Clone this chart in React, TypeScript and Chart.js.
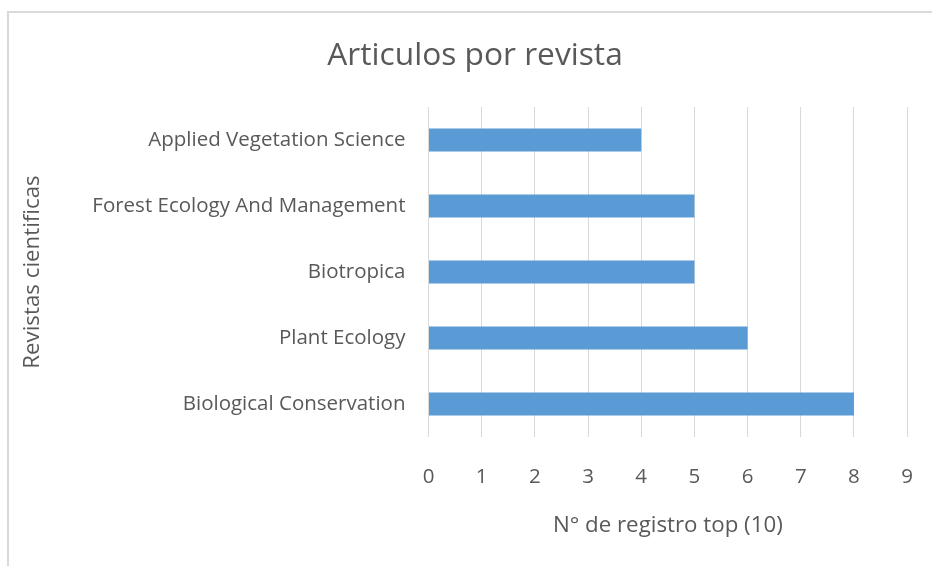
import React, { useEffect, useRef } from "react";
import { Chart, registerables } from "chart.js";

Chart.register(...registerables);

const categories = [
  "Applied Vegetation Science",
  "Forest Ecology And Management",
  "Biotropica",
  "Plant Ecology",
  "Biological Conservation",
];
const values = [4, 5, 5, 6, 8];
const xMin = 0;
const xMax = 9;
const titleText = "Articulos por revista";
const xTitle = "N° de registro top (10)";
const yTitle = "Revistas cientificas";

const FONT = "'Open Sans', Lato, sans-serif";
const TEXT = "#595959";
const GRID = "#d9d9d9";
const BAR = "#5B9BD5";

export default function App() {
  const ref = useRef<HTMLCanvasElement | null>(null);

  useEffect(() => {
    document.body.style.margin = "0";
    if (!ref.current) return;
    const chart = new Chart(ref.current, {
      type: "bar",
      data: {
        labels: categories,
        datasets: [
          {
            data: values,
            backgroundColor: BAR,
            borderWidth: 0,
            categoryPercentage: 1,
            barPercentage: 0.35,
          },
        ],
      },
      options: {
        indexAxis: "y",
        animation: false,
        responsive: false,
        layout: { padding: { left: 33, right: 33, top: 0, bottom: 0 } },
        plugins: {
          legend: { display: false },
          tooltip: { enabled: false },
          title: {
            display: true,
            text: titleText,
            color: TEXT,
            font: { family: FONT, size: 31.7, weight: "normal" },
            padding: { top: 24, bottom: 32 },
          },
        },
        scales: {
          x: {
            min: xMin,
            max: xMax,
            ticks: {
              stepSize: 1,
              color: TEXT,
              font: { family: FONT, size: 20.5 },
              padding: 28,
            },
            grid: { color: GRID, lineWidth: 1, drawTicks: false },
            border: { display: false },
            title: {
              display: true,
              text: xTitle,
              color: TEXT,
              font: { family: FONT, size: 22.3 },
              padding: { top: 0, bottom: 33.6 },
            },
            afterFit: (s: any) => {
              s.height = 136;
            },
          },
          y: {
            ticks: {
              color: TEXT,
              font: { family: FONT, size: 20.5 },
              padding: 23,
            },
            grid: { display: false, drawTicks: false },
            border: { display: false },
            title: {
              display: true,
              text: yTitle,
              color: TEXT,
              font: { family: FONT, size: 22.3 },
              padding: { top: -22.4, bottom: 0 },
            },
            afterFit: (s: any) => {
              s.width = 386.5;
            },
          },
        },
      },
    });
    return () => chart.destroy();
  }, []);

  return (
    <div
      style={{
        position: "fixed",
        left: 0,
        top: 0,
        width: 932,
        height: 566,
        overflow: "hidden",
        background: "#fff",
      }}
    >
      <div
        style={{
          position: "absolute",
          left: 7,
          top: 11,
          width: 960,
          height: 600,
          borderLeft: "2px solid #d9d9d9",
          borderTop: "2px solid #d9d9d9",
        }}
      >
        <canvas ref={ref} width={932} height={560} style={{ display: "block" }} />
      </div>
    </div>
  );
}
